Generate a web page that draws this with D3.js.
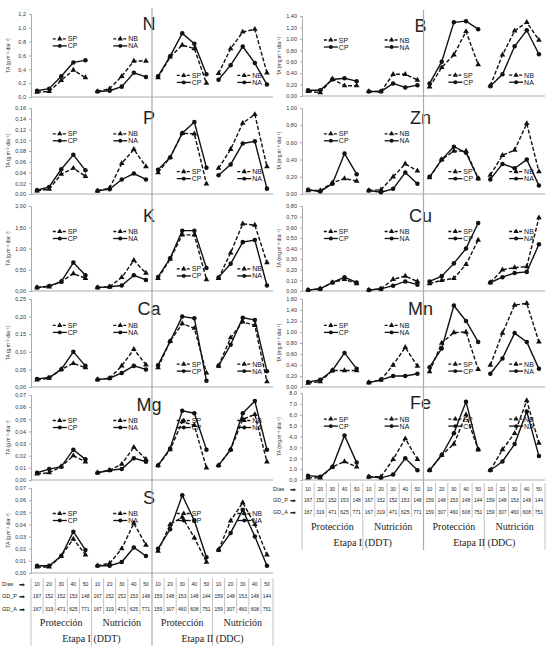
<!DOCTYPE html>
<html><head><meta charset="utf-8">
<script src="https://cdn.jsdelivr.net/npm/d3@7"></script>
<style>body{margin:0;background:#fff}svg{font-family:"Liberation Sans",Arial,sans-serif}</style>
</head><body><svg id="c" width="546" height="650"></svg>
<script>
// days and growing-degree rows of the table
const days = [10, 20, 30, 40, 50];
const gdP1 = [167, 152, 152, 153, 148];
const gdA1 = [167, 319, 471, 625, 771];
const gdP2 = [159, 148, 153, 148, 144];
const gdA2 = [159, 307, 460, 608, 751];
const groups = ["Protección", "Nutrición", "Protección", "Nutrición"];
const stages = ["Etapa I (DDT)", "Etapa II (DDC)"];

// each nutrient: 4 groups x [dashed (SP/NB), solid (CP/NA)]
const N  = [[[.07,.08,.24,.39,.28],[.09,.12,.30,.50,.53]],[[.08,.12,.30,.52,.52],[.08,.09,.15,.35,.29]],[[.28,.58,.75,.70,.20],[.30,.59,.92,.77,.33]],[[.34,.70,.94,.98,.35],[.25,.46,.73,.49,.18]]];
const P  = [[[.006,.009,.037,.048,.033],[.007,.013,.046,.073,.044]],[[.006,.011,.057,.083,.051],[.006,.009,.027,.038,.027]],[[.040,.068,.113,.112,.019],[.045,.068,.113,.134,.049]],[[.048,.083,.132,.148,.051],[.035,.055,.094,.098,.010]]];
const K  = [[[.08,.10,.22,.41,.30],[.08,.12,.22,.67,.37]],[[.08,.10,.32,.72,.42],[.08,.10,.13,.37,.26]],[[.30,.75,1.32,1.32,.27],[.33,.77,1.42,1.42,.54]],[[.30,.90,1.58,1.55,.67],[.32,.64,1.15,1.20,.13]]];
const Ca = [[[.020,.025,.050,.067,.055],[.023,.027,.050,.100,.060]],[[.021,.025,.060,.107,.063],[.021,.025,.040,.060,.050]],[[.055,.130,.180,.167,.040],[.062,.130,.200,.195,.018]],[[.060,.140,.185,.175,.015],[.060,.120,.197,.190,.045]]];
const Mg = [[[.005,.006,.011,.020,.015],[.006,.009,.011,.025,.017]],[[.006,.008,.013,.027,.017],[.006,.008,.009,.018,.015]],[[.012,.025,.048,.045,.010],[.012,.026,.057,.055,.025]],[[.012,.025,.050,.054,.015],[.012,.025,.055,.065,.025]]];
const S  = [[[.005,.005,.014,.028,.015],[.006,.006,.014,.034,.019]],[[.006,.008,.020,.041,.023],[.006,.006,.009,.021,.014]],[[.018,.040,.046,.029,.009],[.020,.036,.064,.043,.013]],[[.019,.043,.058,.040,.015],[.019,.033,.052,.030,.006]]];
const B  = [[[.08,.06,.30,.18,.18],[.10,.10,.29,.31,.26]],[[.08,.08,.38,.38,.28],[.08,.08,.22,.15,.19]],[[.16,.50,.72,1.13,.55],[.22,.60,1.29,1.31,1.17]],[[.18,.72,1.14,1.29,.98],[.17,.38,.87,1.15,.73]]];
const Zn = [[[.04,.04,.13,.18,.15],[.05,.03,.12,.47,.23]],[[.04,.05,.20,.35,.27],[.04,.02,.06,.25,.12]],[[.19,.40,.50,.50,.18],[.20,.40,.55,.48,.18]],[[.22,.45,.51,.82,.26],[.17,.35,.30,.40,.10]]];
const Cu = [[[.01,.02,.08,.11,.07],[.01,.02,.08,.13,.08]],[[.01,.02,.11,.14,.09],[.01,.02,.05,.09,.06]],[[.07,.10,.12,.25,.48],[.09,.14,.26,.40,.64]],[[.08,.20,.22,.23,.69],[.08,.13,.17,.18,.44]]];
const Mn = [[[.07,.10,.30,.30,.30],[.09,.13,.30,.62,.33]],[[.08,.13,.40,.72,.38],[.08,.13,.20,.20,.24]],[[.28,.80,.99,1.00,.32],[.36,.70,1.48,1.20,.82]],[[.40,.98,1.49,1.52,.82],[.24,.52,.98,.82,.33]]];
const Fe = [[[.2,.2,1.2,1.7,1.2],[.4,.3,1.2,4.1,1.6]],[[.3,.3,1.9,3.8,1.9],[.3,.2,.5,2.0,.9]],[[.9,2.3,3.3,6.0,2.8],[.9,2.3,4.3,7.2,2.8]],[[.9,2.8,4.3,7.3,3.4],[.9,1.7,3.3,6.3,2.2]]];

const legendA = ["SP", "CP"], legendB = ["NB", "NA"];

const svg = d3.select("#c");
const grey = "#aaa";

const cols = [
  {x0: 31, x1: 273, unit: "g", panels: [
    {name: "N", data: N, max: 1.2, step: .2, dec: 1, y: [14, 97]},
    {name: "P", data: P, max: .16, step: .02, dec: 2, y: [108, 194]},
    {name: "K", data: K, max: 2, step: .5, dec: 2, y: [206, 291]},
    {name: "Ca", data: Ca, max: .25, step: .05, dec: 2, y: [299, 387]},
    {name: "Mg", data: Mg, max: .07, step: .01, dec: 2, y: [395, 480], legTop: true},
    {name: "S", data: S, max: .07, step: .01, dec: 2, y: [488, 573], legTop: true}],
   table: [584, 596, 609, 623, 639, 578, 646]},
  {x0: 302, x1: 545, unit: "mg", panels: [
    {name: "B", data: B, max: 1.4, step: .2, dec: 2, y: [16, 96]},
    {name: "Zn", data: Zn, max: 1, step: .2, dec: 2, y: [108, 194]},
    {name: "Cu", data: Cu, max: .8, step: .1, dec: 2, y: [206, 291], legTop: true},
    {name: "Mn", data: Mn, max: 1.6, step: .2, dec: 2, y: [299, 387]},
    {name: "Fe", data: Fe, max: 8, step: 1, dec: 1, y: [393, 480], legTop: true}],
   table: [489, 500, 512, 527, 543, 483, 550]}
];

cols.forEach(col => {
  const x = d3.scaleBand().domain(d3.range(20)).range([col.x0, col.x1]);
  const cx = i => col.x0 + (i + 0.5) * x.step();   // also works for fractional positions
  const sep = x(10);

  col.panels.forEach(p => {
    const y = d3.scaleLinear().domain([0, p.max]).range([p.y[1], p.y[0]]);
    const g = svg.append("g");
    const fmt = v => d3.format("." + p.dec + "f")(v).replace(".", ",");
    const ax = g.append("g").attr("transform", `translate(${col.x0},0)`)
      .call(d3.axisLeft(y).tickValues(d3.range(0, p.max + p.step / 2, p.step)).tickFormat(fmt).tickSize(2));
    ax.select(".domain").attr("stroke", grey);
    ax.selectAll("line").attr("stroke", grey);
    ax.selectAll("text").attr("font-size", 5.5).attr("fill", "#333");
    g.append("line").attr("x1", col.x0).attr("x2", col.x1).attr("y1", p.y[1]).attr("y2", p.y[1]).attr("stroke", grey);
    g.append("text").attr("transform", `translate(${col.x0 - 21},${(p.y[0] + p.y[1]) / 2}) rotate(-90)`)
      .attr("text-anchor", "middle").attr("font-size", 5).attr("fill", "#333")
      .text(`TA (${col.unit}.m⁻² día⁻¹)`);
    g.append("text").attr("x", sep - 3).attr("y", p.y[0] + 16).attr("text-anchor", "middle")
      .attr("font-size", 18).attr("fill", "#222").text(p.name);

    const line = d3.line().x(d => cx(d[0])).y(d => y(d[1]));
    const h = p.y[1] - p.y[0];
    p.data.forEach((grp, gi) => {
      grp.forEach((vals, si) => {
        const pts = vals.map((v, k) => [gi * 5 + k, v]);
        g.append("path").datum(pts).attr("d", line).attr("fill", "none").attr("stroke", "#111")
          .attr("stroke-width", 1.4).attr("stroke-dasharray", si === 0 ? "4,2" : null);
        g.selectAll(null).data(pts).enter().append("path")
          .attr("transform", d => `translate(${cx(d[0])},${y(d[1])})`)
          .attr("d", d3.symbol(si === 0 ? d3.symbolTriangle : d3.symbolCircle, si === 0 ? 14 : 16))
          .attr("fill", "#111");
      });
      // legend
      const top = gi < 2 || p.legTop;
      const ly = p.y[0] + (top ? 0.3 * h : 0.74 * h);
      const lx = cx(gi * 5 + 1.3) + (gi >= 2 ? 3 : 0);
      (gi % 2 === 0 ? legendA : legendB).forEach((lab, si) => {
        const yy = ly + si * 7;
        g.append("line").attr("x1", lx).attr("x2", lx + 14).attr("y1", yy).attr("y2", yy)
          .attr("stroke", "#111").attr("stroke-width", 1.3).attr("stroke-dasharray", si === 0 ? "3,2" : null);
        g.append("path").attr("transform", `translate(${lx + 7},${yy})`)
          .attr("d", d3.symbol(si === 0 ? d3.symbolTriangle : d3.symbolCircle, 12)).attr("fill", "#111");
        g.append("text").attr("x", lx + 15).attr("y", yy + 2.5).attr("font-size", 7).attr("fill", "#111").text(lab);
      });
    });
  });

  // separator between stages
  const t = col.table;
  svg.append("line").attr("x1", sep).attr("x2", sep).attr("y1", col.panels[0].y[0] - 6).attr("y2", t[6])
    .attr("stroke", grey).attr("stroke-width", 1.2);

  // table
  const tg = svg.append("g").attr("font-size", 5).attr("fill", "#222");
  d3.range(21).forEach(i => {
    if (i === 10) return;
    const xx = col.x0 + x.step() * i;
    const bottom = (i % 5 === 0) ? t[6] : t[2] + 5;
    tg.append("line").attr("x1", xx).attr("x2", xx).attr("y1", t[5]).attr("y2", bottom).attr("stroke", grey).attr("stroke-width", .7);
  });
  const rows = [days.concat(days, days, days), gdP1.concat(gdP1, gdP2, gdP2), gdA1.concat(gdA1, gdA2, gdA2)];
  rows.forEach((r, ri) => {
    tg.selectAll(null).data(r).enter().append("text")
      .attr("x", (d, i) => cx(i)).attr("y", t[ri] + 2).attr("text-anchor", "middle").text(d => d);
  });
  ["Días", "GD_P", "GD_A"].forEach((lab, ri) => {
    tg.append("text").attr("x", col.x0 - 29).attr("y", t[ri] + 2).attr("font-size", 5.5).text(lab);
    tg.append("text").attr("x", col.x0 - 12).attr("y", t[ri] + 2.5).attr("font-size", 7).text("➡");
  });
  groups.forEach((gname, gi) => {
    tg.append("text").attr("x", cx(gi * 5 + 2)).attr("y", t[3] + 3).attr("text-anchor", "middle")
      .style("font-family", "Liberation Serif, serif").attr("font-size", 10).text(gname);
  });
  stages.forEach((s, si) => {
    tg.append("text").attr("x", cx(si * 10 + 4.5)).attr("y", t[4] + 3).attr("text-anchor", "middle")
      .style("font-family", "Liberation Serif, serif").attr("font-size", 10).text(s);
  });
});
</script></body></html>
